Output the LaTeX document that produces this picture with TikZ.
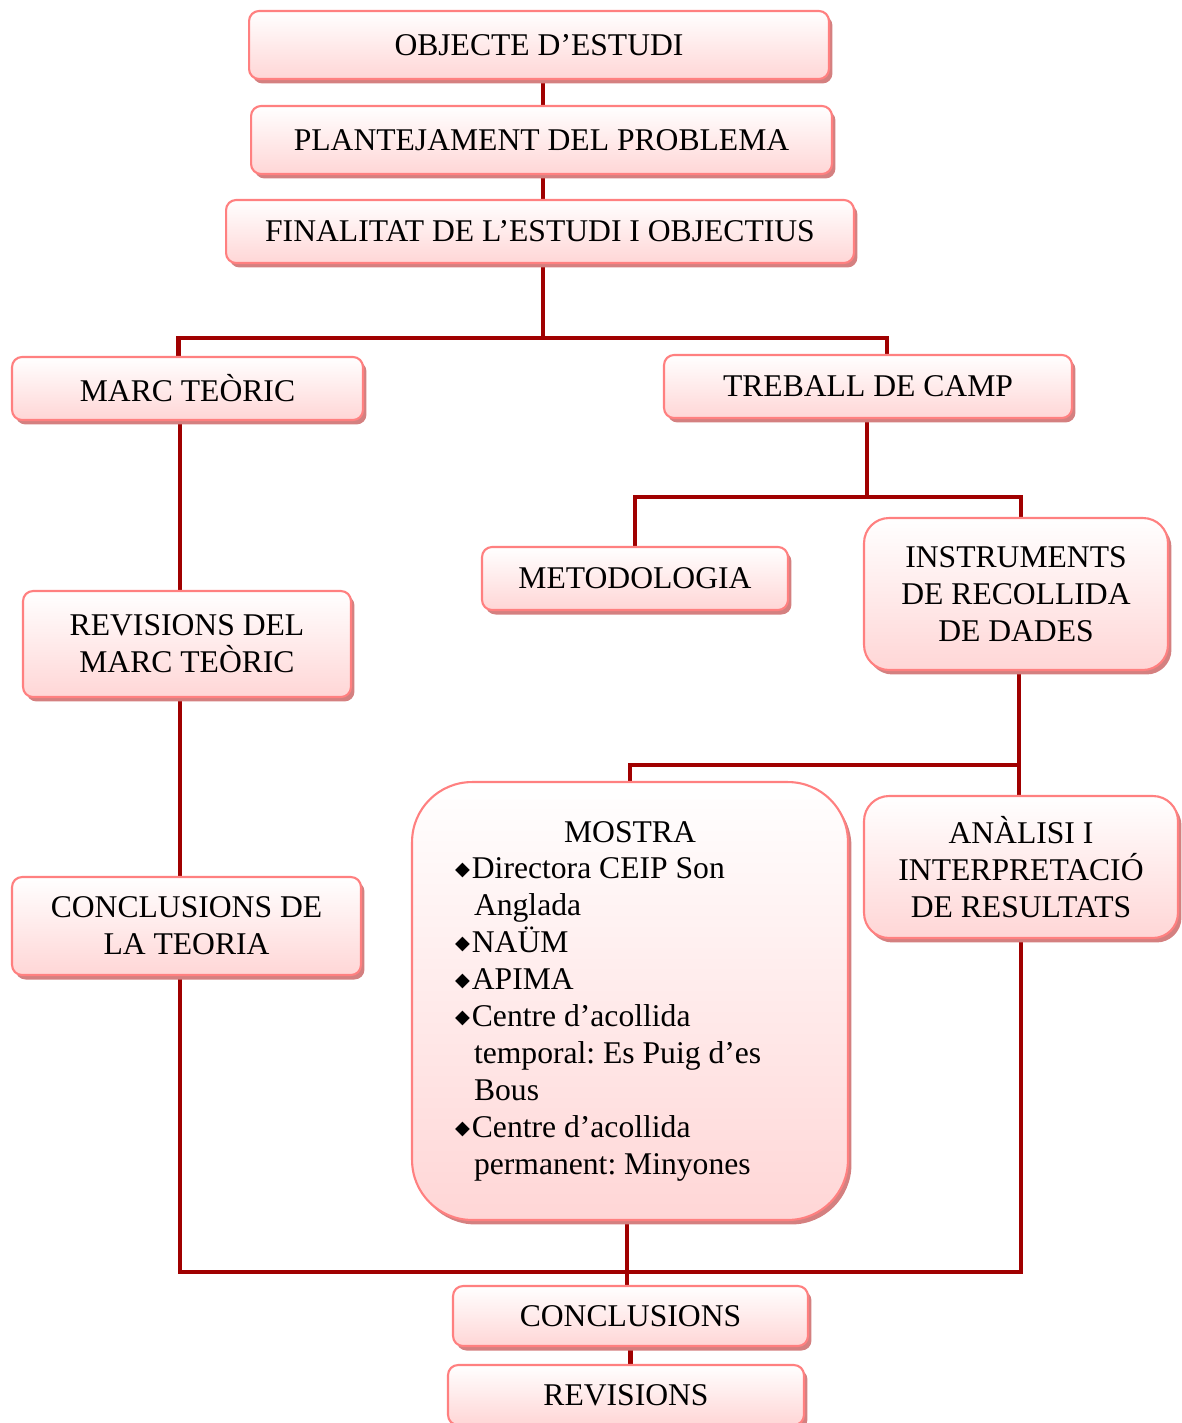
\documentclass[tikz,border=0pt]{standalone}
\usepackage{fontspec}
\setmainfont{Liberation Serif}
\newfontfamily\symfont{DejaVu Sans}
\usetikzlibrary{shadows}
\usetikzlibrary{backgrounds}
\definecolor{linkred}{RGB}{160,0,0}
\definecolor{boxedge}{RGB}{255,128,128}
\definecolor{boxfill}{RGB}{255,214,214}
\definecolor{boxshade}{RGB}{212,128,128}
\newcommand{\bul}{\raisebox{0.06cm}{\symfont\fontsize{11}{11}\selectfont ◆}}
\newcommand{\itm}[1]{\hangindent=0.38cm\hangafter=1\noindent\bul\hspace{0.04cm}#1\par}

\begin{document}
\begin{tikzpicture}[
		x=0.02cm,
		y=-0.02cm,
		stepbox/.style={
			draw=boxedge,
			line width=1.2pt,
			rounded corners=0.2cm,
			top color=white,
			bottom color=boxfill,
			drop shadow={shadow xshift=0.07cm, shadow yshift=-0.09cm, fill=boxshade, opacity=1},
			align=center,
			inner sep=0pt,
			font=\fontsize{18}{21}\selectfont
		},
		link/.style={draw=linkred, line width=2.8pt}
	]
		\useasboundingbox (0,0) rectangle (1181,1423);
		\node[stepbox, minimum width=11.6cm, minimum height=1.36cm] (obj) at (539,45) {OBJECTE D’ESTUDI};
		\node[stepbox, minimum width=11.62cm, minimum height=1.36cm] (plan) at (541.5,140) {PLANTEJAMENT DEL PROBLEMA};
		\node[stepbox, minimum width=12.56cm, minimum height=1.26cm] (fin) at (540,231.5) {FINALITAT DE L’ESTUDI I OBJECTIUS};
		\node[stepbox, minimum width=7.02cm, minimum height=1.26cm] (marc) at (187.5,388.5) {MARC TEÒRIC};
		\node[stepbox, minimum width=8.16cm, minimum height=1.26cm] (treball) at (868,386.5) {TREBALL DE CAMP};
		\node[stepbox, minimum width=6.12cm, minimum height=1.26cm] (meto) at (635,578.5) {METODOLOGIA};
		\node[stepbox, minimum width=6.08cm, minimum height=3.04cm, rounded corners=0.5cm] (instr) at (1016,594) {INSTRUMENTS\\DE RECOLLIDA\\DE DADES};
		\node[stepbox, minimum width=8.72cm, minimum height=8.76cm, rounded corners=1.2cm, text width=7cm, align=none] (mostra) at (630,1001) {%
			\frenchspacing\centering MOSTRA\par\raggedright
			\itm{Directora CEIP Son\newline Anglada}
			\itm{NAÜM}
			\itm{APIMA}
			\itm{Centre d’acollida\newline temporal: Es Puig d’es\newline Bous}
			\itm{Centre d’acollida\newline permanent: Minyones}};
		\node[stepbox, minimum width=6.28cm, minimum height=2.84cm, rounded corners=0.5cm] (analisi) at (1021,867) {ANÀLISI I\\INTERPRETACIÓ\\DE RESULTATS};
		\node[stepbox, minimum width=6.56cm, minimum height=2.12cm] (revmarc) at (187,644) {REVISIONS DEL\\MARC TEÒRIC};
		\node[stepbox, minimum width=6.98cm, minimum height=1.96cm] (concteo) at (186.5,926) {CONCLUSIONS DE\\LA TEORIA};
		\node[stepbox, minimum width=7.1cm, minimum height=1.2cm] (conc) at (630.5,1316) {CONCLUSIONS};
		\node[stepbox, minimum width=7.12cm, minimum height=1.2cm] (rev) at (626,1395) {REVISIONS};
		\coordinate (j1) at (543,338);
		\coordinate (j2) at (867,497);
		\coordinate (j3) at (1019,765);
		\coordinate (j4) at (627,1272);
		\coordinate (j5) at (180,1272);
		\coordinate (j6) at (1021,1272);
		\begin{scope}[on background layer]
			\draw[link] (j1 |- obj.south) -- (j1 |- plan.north);
			\draw[link] (j1 |- plan.south) -- (j1 |- fin.north);
			\draw[link] (j1 |- fin.south) -- (j1);
			\draw[link] ([xshift=-0.18cm]marc.north) |- (j1) -| ([xshift=0.38cm]treball.north);
			\draw[link] (j2 |- treball.south) -- (j2);
			\draw[link] (meto.north) |- (j2) -| ([xshift=0.1cm]instr.north);
			\draw[link] (j3 |- instr.south) -- (j3 |- analisi.north);
			\draw[link] (mostra.north) |- (j3);
			\draw[link] (j5 |- marc.south) -- (j5 |- revmarc.north);
			\draw[link] (j5 |- revmarc.south) -- (j5 |- concteo.north);
			\draw[link] (j5 |- concteo.south) -- (j5) -- (j6) -- (analisi.south);
			\draw[link] (j4 |- mostra.south) -- (j4 |- conc.north);
			\draw[link] (conc.south) -- (conc.south |- rev.north);
		\end{scope}
	\end{tikzpicture}
\end{document}
